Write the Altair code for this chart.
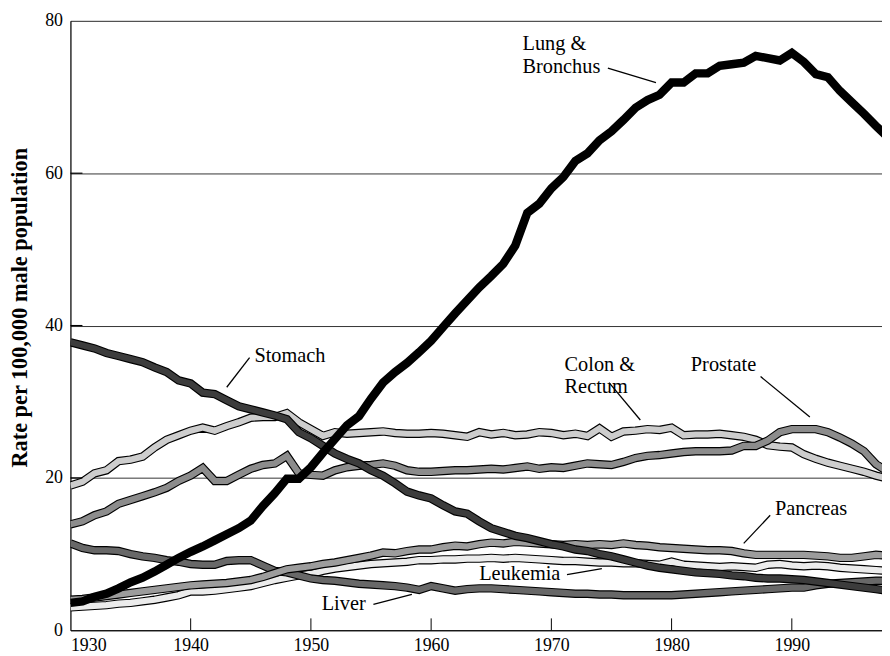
import altair as alt
import pandas as pd

years = list(range(1930, 1999))

lung = [3.6, 3.8, 4.4, 4.8, 5.5, 6.3, 6.9, 7.7, 8.6, 9.5,
        10.3, 11.0, 11.8, 12.6, 13.4, 14.4, 16.3, 18.0, 19.9, 19.9,
        21.4, 23.3, 25.1, 26.9, 28.1, 30.4, 32.5, 33.9, 35.1, 36.5,
        38.0, 39.8, 41.6, 43.3, 45.0, 46.5, 48.1, 50.5, 54.8, 56.0,
        58.0, 59.5, 61.6, 62.6, 64.3, 65.5, 67.0, 68.6, 69.6, 70.3,
        71.9, 71.9, 73.1, 73.1, 74.1, 74.3, 74.5, 75.4, 75.1, 74.8,
        75.8, 74.6, 73.0, 72.6, 70.8, 69.3, 67.8, 66.2, 64.7]

stomach = [37.8, 37.4, 37.0, 36.4, 36.0, 35.6, 35.2, 34.5, 33.9, 32.8,
           32.4, 31.2, 31.0, 30.2, 29.4, 29.0, 28.6, 28.2, 27.7, 26.0,
           25.2, 24.2, 23.2, 22.5, 21.9, 21.0, 20.3, 19.3, 18.2, 17.7,
           17.3, 16.4, 15.6, 15.3, 14.3, 13.4, 12.9, 12.4, 12.1, 11.7,
           11.3, 11.0, 10.6, 10.4, 10.0, 9.7, 9.3, 8.9, 8.5, 8.2,
           8.0, 7.8, 7.6, 7.5, 7.4, 7.2, 7.1, 6.9, 6.8, 6.8,
           6.7, 6.6, 6.4, 6.2, 6.0, 5.8, 5.6, 5.4, 5.2]

colon = [19.0, 19.5, 20.6, 21.0, 22.2, 22.4, 22.8, 24.0, 25.0, 25.6,
         26.2, 26.6, 26.2, 26.8, 27.3, 27.9, 28.0, 28.0, 28.5, 27.3,
         26.4, 25.5, 26.0, 25.8, 25.9, 26.0, 26.1, 25.9, 25.8, 25.8,
         25.9, 25.8, 25.6, 25.4, 26.0, 25.7, 25.9, 25.6, 25.7, 26.0,
         25.9, 25.6, 25.8, 25.5, 26.5, 25.4, 26.1, 26.2, 26.4, 26.3,
         26.6, 25.6, 25.7, 25.7, 25.8, 25.6, 25.4, 25.0, 24.3, 24.1,
         24.0, 23.1, 22.5, 22.0, 21.6, 21.2, 20.8, 20.3, 19.9]

prostate = [13.9, 14.3, 15.1, 15.6, 16.6, 17.1, 17.6, 18.1, 18.7, 19.6,
            20.3, 21.3, 19.6, 19.6, 20.4, 21.2, 21.7, 21.9, 22.9, 20.6,
            20.4, 20.3, 21.0, 21.4, 21.6, 21.7, 21.9, 21.6, 21.0, 20.8,
            20.8, 20.9, 21.0, 21.0, 21.1, 21.2, 21.1, 21.3, 21.5, 21.2,
            21.4, 21.3, 21.6, 21.9, 21.8, 21.7, 22.1, 22.6, 22.9, 23.0,
            23.2, 23.4, 23.5, 23.5, 23.5, 23.6, 24.2, 24.2, 24.9, 26.0,
            26.4, 26.4, 26.4, 26.0, 25.3, 24.5, 23.5, 21.8, 20.8]

pancreas = [4.0, 4.1, 4.3, 4.5, 4.7, 4.9, 5.1, 5.3, 5.5, 5.7,
            5.9, 6.0, 6.1, 6.2, 6.4, 6.6, 7.0, 7.5, 8.0, 8.2,
            8.4, 8.7, 8.9, 9.2, 9.5, 9.8, 10.2, 10.1, 10.4, 10.6,
            10.6, 10.9, 11.1, 11.0, 11.3, 11.5, 11.4, 11.6, 11.5, 11.4,
            11.3, 11.2, 11.3, 11.2, 11.3, 11.2, 11.4, 11.2, 11.1, 10.9,
            10.8, 10.7, 10.6, 10.5, 10.5, 10.4, 10.1, 9.9, 9.9, 9.9,
            9.9, 9.9, 9.8, 9.7, 9.5, 9.5, 9.7, 9.9, 9.8]

leukemia = [3.0, 3.1, 3.2, 3.3, 3.5, 3.6, 3.8, 4.0, 4.3, 4.6,
            5.1, 5.1, 5.2, 5.4, 5.6, 5.8, 6.2, 6.6, 6.9, 7.2,
            7.4, 7.8, 8.1, 8.3, 8.5, 8.7, 8.8, 8.9, 9.0, 9.2,
            9.2, 9.3, 9.3, 9.4, 9.4, 9.5, 9.4, 9.5, 9.4, 9.3,
            9.2, 9.1, 9.1, 9.0, 8.9, 8.9, 8.8, 8.8, 8.7, 8.6,
            9.0, 8.6, 8.5, 8.4, 8.3, 8.4, 8.3, 8.2, 8.6, 8.7,
            8.5, 8.4, 8.5, 8.4, 8.2, 8.1, 8.0, 7.9, 7.8]

liver = [11.4, 10.8, 10.5, 10.5, 10.4, 10.0, 9.7, 9.5, 9.2, 9.0,
         8.7, 8.6, 8.6, 9.1, 9.2, 9.2, 8.5, 7.8, 7.6, 7.2,
         6.8, 6.6, 6.5, 6.3, 6.1, 6.0, 5.9, 5.8, 5.6, 5.3,
         5.8, 5.5, 5.2, 5.4, 5.5, 5.5, 5.4, 5.3, 5.2, 5.1,
         5.0, 4.9, 4.8, 4.8, 4.7, 4.7, 4.6, 4.6, 4.6, 4.6,
         4.6, 4.7, 4.8, 4.9, 5.0, 5.1, 5.2, 5.3, 5.4, 5.5,
         5.6, 5.6, 5.9, 6.1, 6.2, 6.3, 6.4, 6.5, 6.5]

# drawing order (last on top) and fill colours
series_names = ["Leukemia", "Liver", "Pancreas", "Colon & Rectum", "Prostate", "Stomach", "Lung & Bronchus"]
series_values = [leukemia, liver, pancreas, colon, prostate, stomach, lung]
series_colors = ["#ececec", "#686868", "#9c9c9c", "#cdcdcd", "#8c8c8c", "#3c3c3c", "#000000"]

x_ticks = [1930, 1940, 1950, 1960, 1970, 1980, 1990]
y_ticks = [0, 20, 40, 60, 80]

# annotation text (label, year, rate) and leader lines (year1, rate1, year2, rate2)
label_text = ["Lung &", "Bronchus", "Stomach", "Colon &", "Rectum", "Prostate", "Pancreas", "Leukemia", "Liver"]
label_year = [1967.6, 1967.6, 1945.3, 1971.1, 1971.1, 1981.6, 1988.6, 1964.0, 1950.9]
label_rate = [76.2, 73.2, 35.25, 34.0, 31.1, 34.0, 15.1, 6.6, 2.6]

leader_x1 = [1974.7, 1944.9, 1974.8, 1987.4, 1988.2, 1971.3, 1955.2]
leader_y1 = [73.8, 35.8, 32.5, 33.3, 15.1, 7.3, 3.4]
leader_x2 = [1978.7, 1943.0, 1977.4, 1991.5, 1986.0, 1974.2, 1958.4]
leader_y2 = [71.9, 31.9, 27.6, 28.0, 11.4, 8.1, 4.7]

rows = []
for name, vals in zip(series_names, series_values):
    for yr, v in zip(years, vals):
        rows.append({"series": name, "year": yr, "rate": v})
df = pd.DataFrame(rows)

SERIF = "Liberation Serif"

x_enc = alt.X("year:Q",
              scale=alt.Scale(domain=[1930, 1997.5], nice=False, zero=False),
              axis=alt.Axis(values=x_ticks, format="d", ticks=False, grid=False,
                            labelFont=SERIF, labelFontSize=18, labelColor="black",
                            labelPadding=6, domainColor="black", domainWidth=1.2,
                            title=None))
y_enc = alt.Y("rate:Q",
              scale=alt.Scale(domain=[0, 80], nice=False),
              axis=alt.Axis(values=y_ticks, ticks=False, grid=True, gridColor="#333333",
                            gridWidth=1, labelFont=SERIF, labelFontSize=18, labelColor="black",
                            labelPadding=8, domainColor="black", domainWidth=1.2,
                            title="Rate per 100,000 male population",
                            titleFont=SERIF, titleFontSize=22.5, titleFontWeight="bold",
                            titleColor="black", titleAngle=270, titleX=-51, titleY=289,
                            titleBaseline="middle", titleAlign="center"))

layers = []
for name, col in zip(series_names, series_colors):
    base = alt.Chart(df).transform_filter(alt.datum.series == name)
    layers.append(base.mark_line(color="black", strokeWidth=8.5, clip=True,
                                 strokeJoin="miter").encode(x=x_enc, y=y_enc))
    if col != "#000000":
        layers.append(base.mark_line(color=col, strokeWidth=6.2, clip=True,
                                     strokeJoin="miter").encode(x=x_enc, y=y_enc))

# inward ticks
xt = pd.DataFrame({"year": x_ticks[1:], "rate": [0] * (len(x_ticks) - 1),
                   "rate2": [1.56] * (len(x_ticks) - 1)})
tick_x = alt.Chart(xt).mark_rule(color="black", strokeWidth=1).encode(
    x=x_enc, y=y_enc, y2="rate2:Q")
yt = pd.DataFrame({"rate": y_ticks[1:-1], "year": [1930] * 3, "year2": [1931.0] * 3})
tick_y = alt.Chart(yt).mark_rule(color="black", strokeWidth=1.2).encode(
    x=x_enc, x2="year2:Q", y=y_enc)

lab = pd.DataFrame({"text": label_text, "year": label_year, "rate": label_rate})
labels = alt.Chart(lab).mark_text(font=SERIF, fontSize=20.5, align="left",
                                  baseline="alphabetic", color="black").encode(
    x=x_enc, y=y_enc, text="text:N")

lead = pd.DataFrame({"year": leader_x1, "rate": leader_y1,
                     "year2": leader_x2, "rate2": leader_y2})
leaders = alt.Chart(lead).mark_rule(color="black", strokeWidth=1.3).encode(
    x=x_enc, y=y_enc, x2="year2:Q", y2="rate2:Q")

chart = alt.layer(*layers, tick_x, tick_y, leaders, labels).properties(
    width=819, height=615,
    autosize=alt.AutoSizeParams(type="none"),
    padding={"left": 63, "top": 10, "right": 0, "bottom": 22},
).configure_view(stroke=None).configure(background="white")

chart.save("out.html", embed_options={"renderer": "svg", "actions": False})
